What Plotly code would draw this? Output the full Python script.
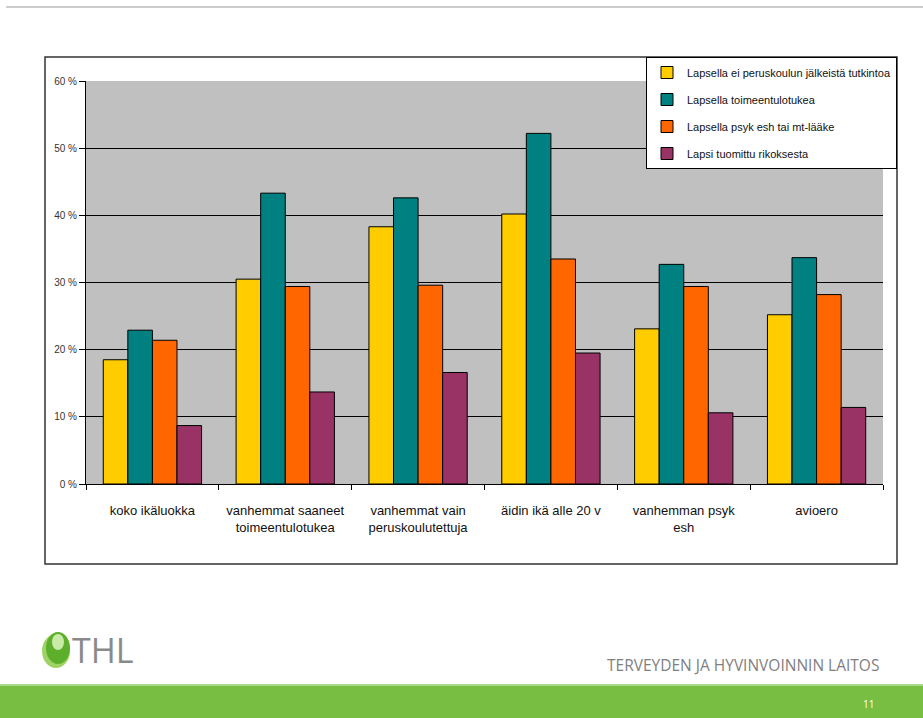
import plotly.graph_objects as go

categories = [
    "koko ikäluokka",
    "vanhemmat saaneet<br>toimeentulotukea",
    "vanhemmat vain<br>peruskoulutettuja",
    "äidin ikä alle 20 v",
    "vanhemman psyk<br>esh",
    "avioero",
]
series_names = [
    "Lapsella ei peruskoulun jälkeistä tutkintoa",
    "Lapsella toimeentulotukea",
    "Lapsella psyk esh tai mt-lääke",
    "Lapsi tuomittu rikoksesta",
]
s_tutkinto = [18.5, 30.5, 38.3, 40.2, 23.1, 25.2]
s_toimeentulo = [22.9, 43.3, 42.6, 52.2, 32.7, 33.7]
s_psyk = [21.4, 29.4, 29.6, 33.5, 29.4, 28.2]
s_rikos = [8.7, 13.7, 16.6, 19.5, 10.6, 11.4]
y_ticks = [0, 10, 20, 30, 40, 50, 60]
y_ticktext = [f"{v} %" for v in y_ticks]

colors = ["#FFCC00", "#008080", "#FF6600", "#993366"]
values = [s_tutkinto, s_toimeentulo, s_psyk, s_rikos]

W, H = 923, 718
L, R, T, B = 86, 883, 81, 484

def px(x):
    return (x - L) / (R - L)

def py(y):
    return (B - y) / (B - T)

SANS = "Liberation Sans, Arial, sans-serif"

fig = go.Figure()
for i, (name, vals) in enumerate(zip(series_names, values)):
    fig.add_trace(go.Bar(
        x=categories, y=vals, name=name,
        marker=dict(color=colors[i], line=dict(color="#000000", width=1)),
        legendgroup=f"g{i}",
    ))

fig.update_layout(
    width=W, height=H,
    margin=dict(l=L, r=W - R, t=T, b=H - B),
    paper_bgcolor="white",
    plot_bgcolor="#C0C0C0",
    barmode="group",
    bargap=0.26,
    bargroupgap=0,
    showlegend=True,
    legend=dict(
        x=px(646), y=py(57), xanchor="left", yanchor="top",
        bgcolor="white", bordercolor="#000000", borderwidth=1,
        font=dict(family=SANS, size=11, color="#111111"),
        tracegroupgap=8, traceorder="grouped",
        itemwidth=30,
    ),
    xaxis=dict(
        showgrid=False, showline=True, linecolor="#000000", linewidth=1,
        ticks="outside", tickson="boundaries", ticklen=5, tickcolor="#000000",
        tickfont=dict(family=SANS, size=13, color="#111111"),
        tickangle=0,
        ticklabelstandoff=14,
    ),
    yaxis=dict(
        range=[0, 60], tickvals=y_ticks, ticktext=y_ticktext,
        showgrid=True, gridcolor="#000000", gridwidth=1.3,
        showline=True, linecolor="#000000", linewidth=1,
        ticks="outside", ticklen=6, tickcolor="#000000",
        tickfont=dict(family=SANS, size=10, color="#333333"),
        zeroline=False,
    ),
    font=dict(family=SANS),
)

shapes = []
# slide top border
shapes.append(dict(type="line", xref="paper", yref="paper",
                   x0=px(6), x1=px(923), y0=py(7), y1=py(7),
                   line=dict(color="#9a9a9a", width=1)))
# chart outer box
shapes.append(dict(type="rect", xref="paper", yref="paper",
                   x0=px(45), x1=px(897), y0=py(564), y1=py(57),
                   line=dict(color="#333333", width=1.5), layer="below"))
# footer green bar
shapes.append(dict(type="rect", xref="paper", yref="paper",
                   x0=px(0), x1=px(923), y0=py(718), y1=py(685),
                   line=dict(width=0), fillcolor="#78BE43"))
shapes.append(dict(type="line", xref="paper", yref="paper",
                   x0=px(0), x1=px(923), y0=py(685), y1=py(685),
                   line=dict(color="#A9D78C", width=2)))
# logo sphere
shapes.append(dict(type="circle", xref="paper", yref="paper",
                   x0=px(42), x1=px(70), y0=py(668), y1=py(634),
                   line=dict(width=0), fillcolor="#9ED264"))
shapes.append(dict(type="circle", xref="paper", yref="paper",
                   x0=px(46), x1=px(70), y0=py(664), y1=py(632),
                   line=dict(width=0), fillcolor="#5DAF2B"))
shapes.append(dict(type="circle", xref="paper", yref="paper",
                   x0=px(52), x1=px(64), y0=py(650), y1=py(634),
                   line=dict(width=0), fillcolor="#C8EBA8"))
fig.update_layout(shapes=shapes)

annotations = [
    dict(text="THL", xref="paper", yref="paper", x=px(70), y=py(650),
         xanchor="left", yanchor="middle", showarrow=False,
         font=dict(family="Open Sans, sans-serif", size=34, color="#8a8a8a")),
    dict(text="TERVEYDEN JA HYVINVOINNIN LAITOS", xref="paper", yref="paper",
         x=px(881), y=py(665), xanchor="right", yanchor="middle", showarrow=False,
         font=dict(family="Open Sans, sans-serif", size=15.5, color="#7f7f7f")),
    dict(text="11", xref="paper", yref="paper", x=px(876), y=py(704),
         xanchor="right", yanchor="middle", showarrow=False,
         font=dict(family="Open Sans, sans-serif", size=10, color="#ffffff")),
]
fig.update_layout(annotations=annotations)

fig.write_html("out.html")
